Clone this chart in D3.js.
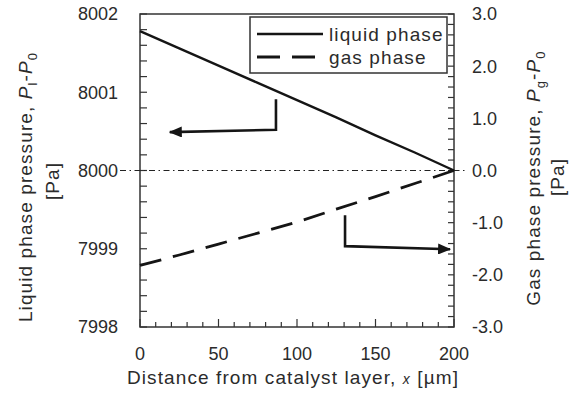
<!DOCTYPE html>
<html>
<head>
<meta charset="utf-8">
<script src="https://cdn.jsdelivr.net/npm/d3@7"></script>
<style>
  html, body { margin: 0; padding: 0; background: #fff; }
  svg { display: block; }
</style>
</head>
<body>
<div id="chart"></div>
<script>
// chart.js -- liquid / gas phase pressure profile

// data
const xPos        = [0, 25, 50, 75, 100, 125, 150, 175, 200];
const liquidP     = [8001.78, 8001.56, 8001.34, 8001.12, 8000.90, 8000.68, 8000.45, 8000.23, 8000.0];
const gasP        = [-1.82, -1.62, -1.41, -1.20, -0.99, -0.74, -0.50, -0.25, 0.0];
const leftTicks   = [7998, 7999, 8000, 8001, 8002];
const rightTicks  = [-3, -2, -1, 0, 1, 2, 3];
const xTicks      = [0, 50, 100, 150, 200];
const seriesNames = ["liquid phase", "gas phase"];
// arrows: [x, value] on the axis they point to
const leftArrow   = [[86.6, 8000.91], [86.6, 8000.52], [19, 8000.49]];
const rightArrow  = [[130.6, -0.86], [130.6, -1.45], [197.5, -1.51]];

const totalW = 576, totalH = 399;
const margin = { top: 14, right: 122, bottom: 72, left: 140 };
const W = totalW - margin.left - margin.right;
const H = totalH - margin.top - margin.bottom;
const FONT = "'Liberation Sans', Arial, Helvetica, sans-serif";
const INK = "#2b2b2b";

const svg = d3.select("#chart").append("svg")
  .attr("width", totalW).attr("height", totalH)
  .style("font-family", FONT);

const g = svg.append("g").attr("transform", `translate(${margin.left},${margin.top})`);

const x  = d3.scaleLinear().domain([0, 200]).range([0, W]);
const yL = d3.scaleLinear().domain([7998, 8002]).range([H, 0]);
const yR = d3.scaleLinear().domain([-3, 3]).range([H, 0]);

// minor + major ticks, all inward
const tickLines = (vals, fn) => g.append("g").selectAll("line").data(vals).join("line")
  .each(function(d) { const a = fn(d); d3.select(this).attr("x1", a[0]).attr("y1", a[1]).attr("x2", a[2]).attr("y2", a[3]); })
  .attr("stroke", "#333").attr("stroke-width", 1.2);

tickLines(d3.range(7998, 8002.001, 0.2), d => [0, yL(d), 7, yL(d)]);
tickLines(d3.range(-3, 3.001, 0.2), d => [W, yR(d), W - 6, yR(d)]);
tickLines(d3.range(0, 201, 10), d => [x(d), H, x(d), H - (d % 50 === 0 ? 8 : 5)]);

// frame
g.append("rect").attr("x", 0).attr("y", 0).attr("width", W).attr("height", H)
  .attr("fill", "none").attr("stroke", "#333").attr("stroke-width", 1.5);

// zero reference, dash-dot, runs out past both axes
g.append("line")
  .attr("x1", -20).attr("x2", W + 12).attr("y1", yL(8000)).attr("y2", yL(8000))
  .attr("stroke", "#222").attr("stroke-width", 1).attr("stroke-dasharray", "6,3.5,1.5,3.5");

// tick labels
const lbl = { fill: INK, size: "18px" };
g.append("g").selectAll("text").data(leftTicks).join("text")
  .attr("x", -22).attr("y", d => yL(d)).attr("dy", "0.36em")
  .attr("text-anchor", "end").attr("fill", lbl.fill).style("font-size", lbl.size)
  .text(d => d);
g.append("g").selectAll("text").data(rightTicks).join("text")
  .attr("x", W + 18).attr("y", d => yR(d)).attr("dy", "0.36em")
  .attr("text-anchor", "start").attr("fill", lbl.fill).style("font-size", lbl.size)
  .text(d => (d < 0 ? "-" : "") + d3.format(".1f")(Math.abs(d)));
g.append("g").selectAll("text").data(xTicks).join("text")
  .attr("x", d => x(d)).attr("y", H + 33)
  .attr("text-anchor", "middle").attr("fill", lbl.fill).style("font-size", lbl.size)
  .text(d => d);

// axis titles
const TITLE = sel => sel.attr("fill", INK).style("font-size", "19px").style("letter-spacing", "1.1px");

const xt = g.append("text").attr("x", 153).attr("y", H + 57).attr("text-anchor", "middle").call(TITLE);
xt.append("tspan").text("Distance from catalyst layer, ");
xt.append("tspan").style("font-style", "italic").style("font-size", "14px").text("x");
xt.append("tspan").text(" [µm]");

function subTitle(parent, tx, ty, pre, sub) {
  const t = parent.append("text").attr("transform", `translate(${tx},${ty}) rotate(-90)`)
    .attr("text-anchor", "middle").call(TITLE);
  t.append("tspan").text(pre);
  t.append("tspan").style("font-style", "italic").text("P");
  t.append("tspan").attr("dy", 5).style("font-size", "13px").text(sub);
  t.append("tspan").attr("dy", -5).text("-");
  t.append("tspan").style("font-style", "italic").text("P");
  t.append("tspan").attr("dy", 5).style("font-size", "13px").text("0");
  return t;
}
subTitle(svg, 32, 187, "Liquid phase pressure, ", "l");
svg.append("text").attr("transform", "translate(59,181) rotate(-90)")
  .attr("text-anchor", "middle").call(TITLE).text("[Pa]");
subTitle(svg, 540, 178, "Gas phase pressure, ", "g");
svg.append("text").attr("transform", "translate(564,177) rotate(-90)")
  .attr("text-anchor", "middle").call(TITLE).text("[Pa]");

// series
const liqLine = d3.line().x(d => x(d[0])).y(d => yL(d[1]));
const gasLine = d3.line().x(d => x(d[0])).y(d => yR(d[1]));

g.append("path").datum(xPos.map((v, i) => [v, liquidP[i]]))
  .attr("d", liqLine).attr("fill", "none")
  .attr("stroke", "#151515").attr("stroke-width", 2.4);
g.append("path").datum(xPos.map((v, i) => [v, gasP[i]]))
  .attr("d", gasLine).attr("fill", "none")
  .attr("stroke", "#151515").attr("stroke-width", 2.8).attr("stroke-dasharray", "22,12");

// arrows
svg.append("defs").append("marker").attr("id", "head")
  .attr("viewBox", "0 0 13 11").attr("refX", 12).attr("refY", 5.5)
  .attr("markerWidth", 13).attr("markerHeight", 11).attr("markerUnits", "userSpaceOnUse")
  .attr("orient", "auto")
  .append("path").attr("d", "M0,0 L13,5.5 L0,11 Z").attr("fill", "#151515");

g.append("path").datum(leftArrow).attr("d", liqLine)
  .attr("fill", "none").attr("stroke", "#151515").attr("stroke-width", 2.6)
  .attr("marker-end", "url(#head)");
g.append("path").datum(rightArrow).attr("d", gasLine)
  .attr("fill", "none").attr("stroke", "#151515").attr("stroke-width", 2.6)
  .attr("marker-end", "url(#head)");

// legend
const lg = svg.append("g").attr("transform", "translate(250,17)");
lg.append("rect").attr("width", 197).attr("height", 56)
  .attr("fill", "#fff").attr("stroke", "#333").attr("stroke-width", 1.5);
seriesNames.forEach((name, i) => {
  const yy = 17 + i * 23;
  lg.append("line").attr("x1", 7).attr("x2", 73).attr("y1", yy).attr("y2", yy)
    .attr("stroke", "#151515").attr("stroke-width", i ? 2.8 : 2.4)
    .attr("stroke-dasharray", i ? "23,12" : null);
  lg.append("text").attr("x", 79).attr("y", yy + 7)
    .attr("fill", INK).style("font-size", "19px").style("letter-spacing", "1.1px")
    .text(name);
});
</script>
</body>
</html>
